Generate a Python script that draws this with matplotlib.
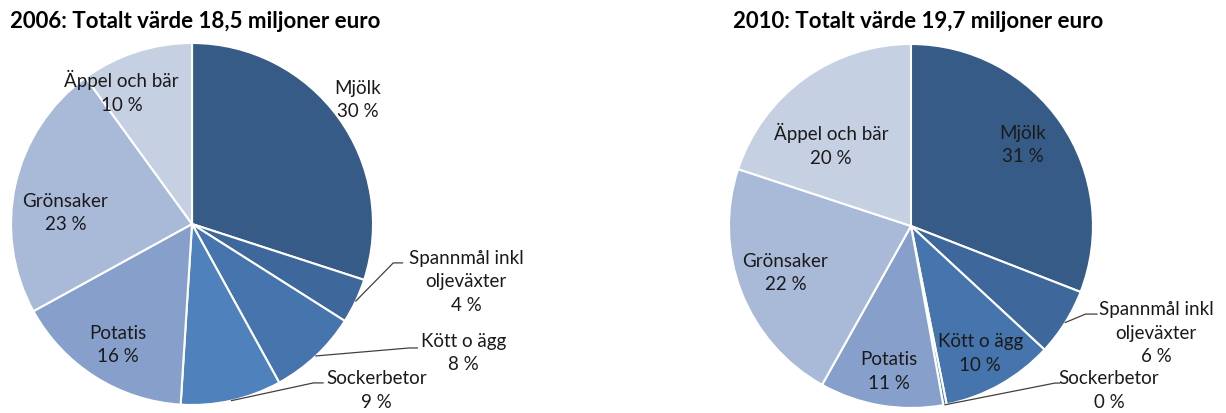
import numpy as np
import matplotlib.pyplot as plt

plt.rcParams['font.family'] = ['Lato', 'DejaVu Sans']

categories = ['Mjölk', 'Spannmål inkl\noljeväxter', 'Kött o ägg', 'Sockerbetor',
              'Potatis', 'Grönsaker', 'Äppel och bär']
values_2006 = [30, 4, 8, 9, 16, 23, 10]
values_2010 = [31, 6, 10, 0.3, 11, 22, 20]
pct_2006 = ['30 %', '4 %', '8 %', '9 %', '16 %', '23 %', '10 %']
pct_2010 = ['31 %', '6 %', '10 %', '0 %', '11 %', '22 %', '20 %']
title_2006 = '2006: Totalt värde 18,5 miljoner euro'
title_2010 = '2010: Totalt värde 19,7 miljoner euro'

colors = ['#375B87', '#3E689C', '#4674AD', '#4F81BD', '#87A0CB', '#A9B9D8', '#C5D0E3']

# label positions (pie radius = 1); leader -> (elbow_x, elbow_y, end_x)
labels_2006 = [
    (0.917, 0.685, None),
    (1.514, -0.32, (1.112, -0.215, 1.163)),
    (1.50, -0.713, (1.20, -0.685, 1.245)),
    (1.02, -0.92, (0.671, -0.878, 0.724)),
    (-0.41, -0.67, None),
    (-0.70, 0.06, None),
    (-0.39, 0.73, None),
]
labels_2010 = [
    (0.615, 0.445, None),
    (1.346, -0.588, (0.959, -0.484, 1.022)),
    (0.38, -0.70, None),
    (1.088, -0.904, (0.791, -0.863, 0.817)),
    (-0.12, -0.80, None),
    (-0.69, -0.26, None),
    (-0.44, 0.445, None),
]


def draw_pie(ax, vals, pcts, labs):
    wedges, _ = ax.pie(vals, colors=colors, startangle=90, counterclock=False,
                       radius=1, wedgeprops=dict(edgecolor='white', linewidth=1.5))
    for w, cat, pct, (lx, ly, lead) in zip(wedges, categories, pcts, labs):
        ax.text(lx, ly, cat + '\n' + pct, ha='center', va='center',
                multialignment='center', fontsize=13.5, linespacing=1.45,
                color='#1a1a1a')
        if lead is not None:
            mid = np.deg2rad((w.theta1 + w.theta2) / 2)
            sx, sy = np.cos(mid), np.sin(mid)
            ex, ey, endx = lead
            ax.plot([sx, ex, endx], [sy, ey, ey], color='#404040', lw=0.9,
                    clip_on=False)
    ax.set_xlim(-1, 1)
    ax.set_ylim(-1, 1)
    ax.set_aspect('equal')
    ax.axis('off')


fig = plt.figure(figsize=(12.26, 4.13), dpi=100)
ax1 = fig.add_axes([0.00897, 0.0194, 0.2953, 0.8765])
ax2 = fig.add_axes([0.5946, 0.0121, 0.2969, 0.8814])

draw_pie(ax1, values_2006, pct_2006, labels_2006)
draw_pie(ax2, values_2010, pct_2010, labels_2010)

fig.text(10 / 1226, 0.949, title_2006, fontsize=16, fontweight='bold', va='center')
fig.text(733 / 1226, 0.949, title_2010, fontsize=16, fontweight='bold', va='center')

fig.savefig('out.png', dpi=100)
